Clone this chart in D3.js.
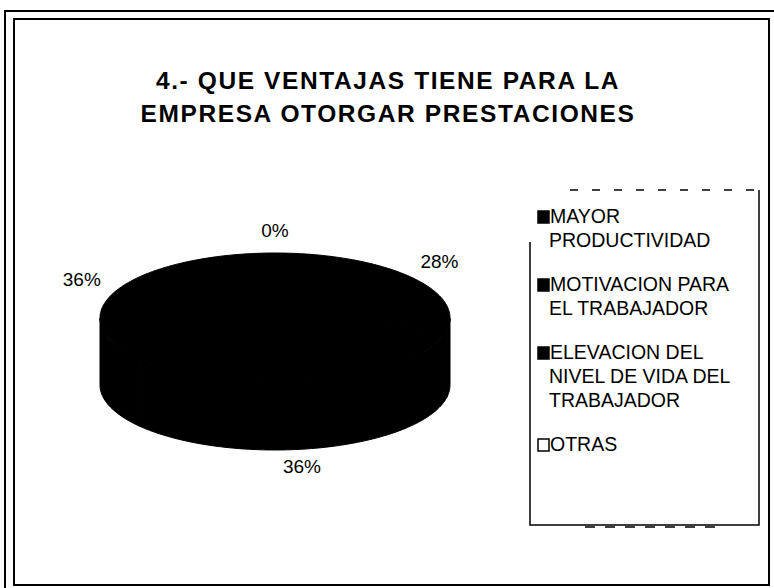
<!DOCTYPE html>
<html>
<head>
<meta charset="utf-8">
<script src="https://cdn.jsdelivr.net/npm/d3@7"></script>
<style>
  body { margin: 0; background: #fff; }
  svg { display: block; font-family: 'Liberation Sans', Arial, sans-serif; }
</style>
</head>
<body>
<svg width="774" height="588"></svg>
<script>
const titleLines = ['4.- QUE VENTAJAS TIENE PARA LA', 'EMPRESA OTORGAR PRESTACIONES'];
const categories = ['MAYOR PRODUCTIVIDAD', 'MOTIVACION PARA EL TRABAJADOR', 'ELEVACION DEL NIVEL DE VIDA DEL TRABAJADOR', 'OTRAS'];
const legendLines = [['MAYOR', 'PRODUCTIVIDAD'], ['MOTIVACION PARA', 'EL TRABAJADOR'], ['ELEVACION DEL', 'NIVEL DE VIDA DEL', 'TRABAJADOR'], ['OTRAS']];
const values = [28, 36, 36, 0];
const colors = ['#000', '#000', '#000', '#fff'];

const svg = d3.select('svg');
const width = +svg.attr('width');
const height = +svg.attr('height');

// double frame (scanned sheet)
svg.append('rect').attr('x', 5).attr('y', 11).attr('width', width).attr('height', height)
  .attr('fill', 'none').attr('stroke', '#000').attr('stroke-width', 2);
svg.append('rect').attr('x', 14).attr('y', 19).attr('width', 755).attr('height', 566)
  .attr('fill', '#fff').attr('stroke', '#000').attr('stroke-width', 2);

// title
svg.append('g').selectAll('text')
  .data(titleLines)
  .enter()
  .append('text')
  .attr('x', 388)
  .attr('y', (d, i) => 89 + i * 33)
  .attr('text-anchor', 'middle')
  .attr('font-size', 24.5)
  .attr('font-weight', 'bold')
  .attr('letter-spacing', 1.6)
  .text(d => d);

// 3d pie
const cx = 275, cy = 318, rx = 175, ry = 65, depth = 67;
const pie = d3.pie().sort(null).value(d => d);
const arcs = pie(values).filter(d => d.endAngle > d.startAngle);

function pt(a, dy) {
  return [cx + rx * Math.sin(a), cy - ry * Math.cos(a) + (dy || 0)];
}
function rim(a0, a1, dy) {
  const n = Math.max(2, Math.ceil((a1 - a0) / 0.02));
  return d3.range(n + 1).map(i => pt(a0 + (a1 - a0) * i / n, dy));
}
const line = d3.line();

const pieG = svg.append('g');
// side walls, only the front half is visible
const front = arcs
  .map(d => ({index: d.index, a0: Math.max(d.startAngle, Math.PI / 2), a1: Math.min(d.endAngle, Math.PI * 1.5)}))
  .filter(d => d.a1 > d.a0);
pieG.selectAll('path.wall')
  .data(front)
  .enter()
  .append('path')
  .attr('class', 'wall')
  .attr('d', d => line(rim(d.a0, d.a1, 0).concat(rim(d.a0, d.a1, depth).reverse())) + 'Z')
  .attr('fill', d => colors[d.index])
  .attr('stroke', '#000');
// top faces
pieG.selectAll('path.top')
  .data(arcs)
  .enter()
  .append('path')
  .attr('class', 'top')
  .attr('d', d => line([[cx, cy]].concat(rim(d.startAngle, d.endAngle, 0))) + 'Z')
  .attr('fill', d => colors[d.index])
  .attr('stroke', '#000');

// percentage labels
pieG.selectAll('text')
  .data(pie(values))
  .enter()
  .append('text')
  .attr('x', d => {
    const a = (d.startAngle + d.endAngle) / 2;
    const k = Math.cos(a) < 0 ? 0.62 : 1.22;
    return cx + rx * k * Math.sin(a);
  })
  .attr('y', d => {
    const a = (d.startAngle + d.endAngle) / 2;
    const c = Math.cos(a);
    return cy - ry * 1.32 * c + (c < 0 ? depth : 0) + 5;
  })
  .attr('text-anchor', 'middle')
  .attr('font-size', 19)
  .text(d => d3.format('.0%')(d.data / d3.sum(values)));

// legend
const lg = svg.append('g');
const lx = 530, ly = 190, lw = 229, lh = 335;
lg.append('path').attr('d', `M${lx},${ly + 52}V${ly + lh}H${lx + lw}V${ly}`)
  .attr('fill', 'none').attr('stroke', '#000').attr('stroke-width', 1.5);
lg.append('line').attr('x1', lx + 40).attr('x2', lx + lw).attr('y1', ly).attr('y2', ly)
  .attr('stroke', '#000').attr('stroke-width', 1.5).attr('stroke-dasharray', '8,14');
lg.append('line').attr('x1', lx + 55).attr('x2', lx + 190).attr('y1', ly + lh + 2).attr('y2', ly + lh + 2)
  .attr('stroke', '#000').attr('stroke-width', 1.5).attr('stroke-dasharray', '10,10');

const lineH = 24, gap = 20;
let yy = 223;
const entryY = legendLines.map(l => { const y = yy; yy += l.length * lineH + gap; return y; });

const items = lg.selectAll('g.item')
  .data(categories)
  .enter()
  .append('g')
  .attr('class', 'item')
  .attr('transform', (d, i) => `translate(${lx + 8},${entryY[i]})`);
items.append('rect')
  .attr('x', 0).attr('y', -12).attr('width', 11).attr('height', 12)
  .attr('fill', (d, i) => colors[i]).attr('stroke', '#000').attr('stroke-width', 1.5);
items.append('text')
  .attr('font-size', 19.5)
  .selectAll('tspan')
  .data((d, i) => legendLines[i])
  .enter()
  .append('tspan')
  .attr('x', (d, j) => j === 0 ? 12 : 11)
  .attr('dy', (d, j) => j === 0 ? 0 : lineH)
  .text(d => d);
</script>
</body>
</html>
